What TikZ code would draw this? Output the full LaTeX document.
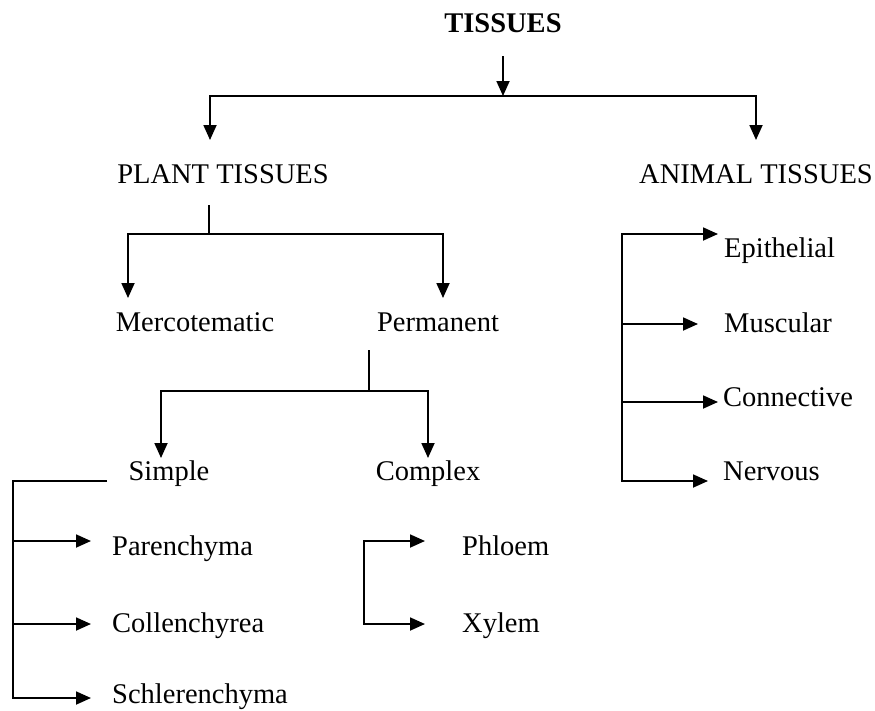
\documentclass[tikz,border=0pt]{standalone}
\usepackage{fontspec}
\setmainfont{Liberation Serif}
\usetikzlibrary{arrows.meta}
\begin{document}
\begin{tikzpicture}[x=1pt,y=-1pt,
  lbl/.style={inner sep=0pt,font=\fontsize{28.5}{30}\selectfont},
  conn/.style={line width=1.8pt,line join=miter},
  arr/.style={conn,-{Triangle[length=15pt,width=13pt]}}]
\useasboundingbox[fill=white] (0,0) rectangle (875,710);
% labels
\node[lbl,anchor=base,font=\bfseries\fontsize{28.5}{30}\selectfont] (tis) at (503,32) {TISSUES};
\node[lbl,anchor=base] (plant) at (223,183) {PLANT TISSUES};
\node[lbl,anchor=base] (animal) at (756,183) {ANIMAL TISSUES};
\node[lbl,anchor=base] (merc) at (195,331) {Mercotematic};
\node[lbl,anchor=base] (perm) at (438,331) {Permanent};
\node[lbl,anchor=base] (simple) at (169,480) {Simple};
\node[lbl,anchor=base] (complex) at (428,480) {Complex};
\node[lbl,anchor=base west] (paren) at (112,555) {Parenchyma};
\node[lbl,anchor=base west] (coll) at (112,632) {Collenchyrea};
\node[lbl,anchor=base west] (schl) at (112,703) {Schlerenchyma};
\node[lbl,anchor=base west] (phl) at (462,555) {Phloem};
\node[lbl,anchor=base west] (xyl) at (462,632) {Xylem};
\node[lbl,anchor=base west] (epi) at (724,257) {Epithelial};
\node[lbl,anchor=base west] (mus) at (724,332) {Muscular};
\node[lbl,anchor=base west] (con) at (723,406) {Connective};
\node[lbl,anchor=base west] (ner) at (723,480) {Nervous};
% junction coordinates
\coordinate (t0) at (503,56);
\coordinate (t1) at (503,96);
\coordinate (tl) at (210,96);
\coordinate (tr) at (756,96);
\coordinate (plantT) at (210,140);
\coordinate (animalT) at (756,140);
\coordinate (p0) at (209,205);
\coordinate (p1) at (209,234);
\coordinate (pl) at (128,234);
\coordinate (pr) at (443,234);
\coordinate (mercT) at (128,298);
\coordinate (permT) at (443,298);
\coordinate (q0) at (369,350);
\coordinate (q1) at (369,391);
\coordinate (ql) at (161,391);
\coordinate (qr) at (428,391);
\coordinate (simpleT) at (161,458);
\coordinate (complexT) at (428,458);
\coordinate (s0) at (107,481);
\coordinate (s1) at (13,481);
\coordinate (s2) at (13,541);
\coordinate (s3) at (13,624);
\coordinate (s4) at (13,698);
\coordinate (parenT) at (91,541);
\coordinate (collT) at (91,624);
\coordinate (schlT) at (91,698);
\coordinate (c1) at (364,541);
\coordinate (c2) at (364,624);
\coordinate (phlT) at (425,541);
\coordinate (xylT) at (425,624);
\coordinate (a1) at (622,234);
\coordinate (a2) at (622,324);
\coordinate (a3) at (622,402);
\coordinate (a4) at (622,481);
\coordinate (epiT) at (718,234);
\coordinate (musT) at (698,324);
\coordinate (conT) at (718,402);
\coordinate (nerT) at (708,481);
% connectors
\draw[arr] (t0) -- (t1);
\draw[arr] (tr) -- (tl) -- (plantT);
\draw[arr] (tl) -- (tr) -- (animalT);
\draw[conn] (p0) -- (p1);
\draw[arr] (pr) -- (pl) -- (mercT);
\draw[arr] (pl) -- (pr) -- (permT);
\draw[conn] (q0) -- (q1);
\draw[arr] (qr) -- (ql) -- (simpleT);
\draw[arr] (ql) -- (qr) -- (complexT);
\draw[arr] (s0) -- (s1) -- (s4) -- (schlT);
\draw[arr] (s2) -- (parenT);
\draw[arr] (s3) -- (collT);
\draw[arr] (c2) -- (c1) -- (phlT);
\draw[arr] (c1) -- (c2) -- (xylT);
\draw[arr] (a4) -- (a1) -- (epiT);
\draw[arr] (a1) -- (a4) -- (nerT);
\draw[arr] (a2) -- (musT);
\draw[arr] (a3) -- (conT);
\end{tikzpicture}
\end{document}
